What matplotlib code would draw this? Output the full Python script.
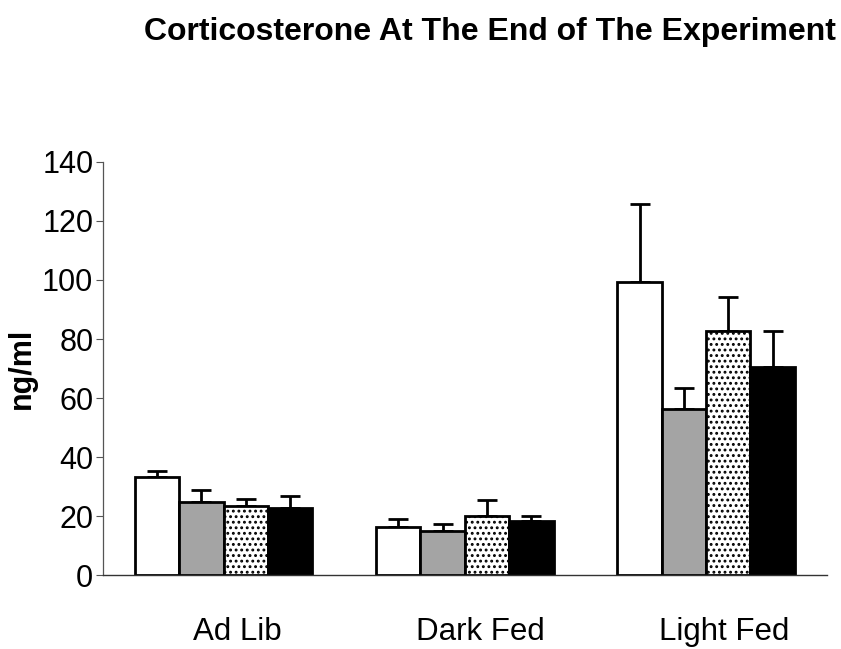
import matplotlib
matplotlib.use("Agg")
import matplotlib.pyplot as plt
import numpy as np

plt.rcParams['font.family'] = ['Liberation Sans', 'DejaVu Sans']
plt.rcParams['hatch.linewidth'] = 1.3

categories = ["Ad Lib", "Dark Fed", "Light Fed"]
series_names = ["Group 1", "Group 2", "Group 3", "Group 4"]
values = [
    [33.2, 16.3, 99.4],   # white
    [24.7, 14.9, 56.4],   # gray
    [23.5, 20.0, 82.8],   # dotted
    [22.7, 18.3, 70.4],   # black
]
errors = [
    [2.1, 2.7, 26.4],
    [4.1, 2.4, 7.0],
    [2.3, 5.4, 11.5],
    [4.1, 1.7, 12.2],
]
yticks = [0, 20, 40, 60, 80, 100, 120, 140]

facecolors = ["white", "#a4a4a4", "white", "black"]
hatches = [None, None, "...", None]

fig = plt.figure(figsize=(8.41, 6.49), dpi=100)
ax = fig.add_axes([0.1225, 0.114, 0.8605, 0.6364])

x = np.arange(len(categories))
w = 0.184
for i in range(4):
    pos = x + (i - 1.5) * w
    ax.bar(pos, values[i], w, color=facecolors[i], edgecolor="black",
           linewidth=2.0, hatch=hatches[i], zorder=2)
    ax.errorbar(pos, values[i], yerr=[np.zeros(3), errors[i]], fmt="none",
                ecolor="black", elinewidth=2.0, capsize=7, capthick=2.0, zorder=1)

ax.set_xlim(-0.5, 2.5)
ax.set_ylim(0, 140)
ax.set_yticks(yticks)
ax.set_yticklabels([str(t) for t in yticks], fontsize=22)
ax.set_xticks(x + np.array([0.055, 0.065, 0.075]))
ax.set_xticklabels(categories, fontsize=22.5)
ax.tick_params(axis="x", length=0, pad=30)
ax.tick_params(axis="y", length=5, width=0.8, color="#555555", pad=2)
for s in ["top", "right"]:
    ax.spines[s].set_visible(False)
ax.spines["left"].set_color("#555555")
ax.spines["left"].set_linewidth(0.9)
ax.spines["bottom"].set_color("#333333")
ax.spines["bottom"].set_linewidth(1.0)
ax.set_ylabel("ng/ml", fontsize=22, fontweight="bold", labelpad=4)

fig.text(0.583, 0.950, "Corticosterone At The End of The Experiment",
         ha="center", va="center", fontsize=23, fontweight="bold")

fig.savefig("out.png", dpi=100)
